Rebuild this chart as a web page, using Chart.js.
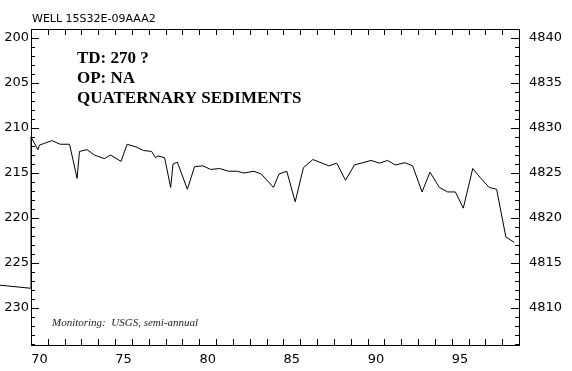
<!DOCTYPE html>
<html>
<head>
<meta charset="utf-8">
<title>WELL 15S32E-09AAA2</title>
<script src="https://cdn.jsdelivr.net/npm/chart.js@4/dist/chart.umd.min.js"></script>
<style>
  html, body { margin: 0; padding: 0; background: #fff; }
  #wrap { width: 572px; height: 371px; position: relative; }
</style>
</head>
<body>
<div id="wrap"><canvas id="hydro"></canvas></div>
<script>
// Water-level record: decimal year (19xx) and depth to water below land surface (ft)
const sampleYears = [
  63.0, 70.0, 70.0, 70.41, 70.50, 71.24, 71.73, 72.29, 72.74, 72.88,
  73.33, 73.77, 74.36, 74.72, 75.35, 75.71, 76.24, 76.70, 77.17, 77.40,
  77.55, 77.94, 78.30, 78.44, 78.70, 79.29, 79.72, 80.22, 80.67, 81.21,
  81.74, 82.26, 82.65, 83.24, 83.68, 84.41, 84.74, 85.20, 85.70, 86.19,
  86.75, 87.70, 88.17, 88.69, 89.22, 90.21, 90.70, 91.19, 91.65, 92.22,
  92.68, 93.24, 93.71, 94.27, 94.76, 95.22, 95.69, 96.25, 96.74, 97.23,
  97.67, 98.22, 98.72
];
const depthToWater = [
  226.5, 227.8, 211.0, 212.4, 211.9, 211.4, 211.8, 211.8, 215.6, 212.6,
  212.4, 213.0, 213.4, 213.0, 213.7, 211.8, 212.1, 212.5, 212.6, 213.3,
  213.1, 213.3, 216.6, 214.0, 213.8, 216.8, 214.3, 214.2, 214.6, 214.5,
  214.8, 214.8, 215.0, 214.8, 215.1, 216.6, 215.1, 214.8, 218.2, 214.4,
  213.5, 214.2, 213.9, 215.8, 214.1, 213.6, 213.9, 213.6, 214.1, 213.85,
  214.2, 217.1, 214.9, 216.6, 217.1, 217.1, 218.9, 214.5, 215.6, 216.6,
  216.8, 222.1, 222.7
];

// Axis labels
const yearLabels = [70, 75, 80, 85, 90, 95];
const depthTicks = [200, 205, 210, 215, 220, 225, 230];
const elevationTicks = [4810, 4815, 4820, 4825, 4830, 4835, 4840];

// Land-surface datum: elevation = datum - depth
const landSurface = 5040;
const depthTop = 199.0, depthBottom = 234.1;
const yearStart = 70, yearEnd = 99;

const wellName = 'WELL 15S32E-09AAA2';
const noteLines = ['TD: 270 ?', 'OP: NA', 'QUATERNARY SEDIMENTS'];
const monitoringNote = 'Monitoring:  USGS, semi-annual';

const tickFont = { family: 'DejaVu Sans', size: 13 };
const plainNumber = v => String(v);

// Tick marks drawn inward on all four sides of the frame
const innerTicks = {
  id: 'innerTicks',
  afterDraw(chart) {
    const { ctx, chartArea: a, scales } = chart;
    ctx.save();
    ctx.strokeStyle = '#000';
    ctx.lineWidth = 1;
    ctx.beginPath();
    const xs = scales.x;
    for (let v = Math.ceil(xs.min); v <= xs.max; v++) {
      const px = Math.round(xs.getPixelForValue(v)) + 0.5;
      ctx.moveTo(px, a.bottom); ctx.lineTo(px, a.bottom - 6);
      ctx.moveTo(px, a.top); ctx.lineTo(px, a.top + 6);
    }
    const ys = scales.y;
    for (let v = Math.ceil(ys.min); v <= ys.max; v++) {
      const py = Math.round(ys.getPixelForValue(v)) + 0.5;
      const len = v % 5 === 0 ? 8 : 4;
      ctx.moveTo(a.left, py); ctx.lineTo(a.left + len, py);
    }
    const es = scales.yElev;
    for (let v = Math.ceil(es.min); v <= es.max; v++) {
      const py = Math.round(es.getPixelForValue(v)) + 0.5;
      const len = v % 5 === 0 ? 8 : 4;
      ctx.moveTo(a.right, py); ctx.lineTo(a.right - len, py);
    }
    ctx.stroke();
    ctx.restore();
  }
};

// Well name above the frame and the notes inside the plot
const wellNotes = {
  id: 'wellNotes',
  afterDraw(chart) {
    const { ctx, chartArea: a } = chart;
    ctx.save();
    ctx.fillStyle = '#000';
    ctx.textBaseline = 'alphabetic';
    ctx.textAlign = 'left';
    ctx.font = '11px "DejaVu Sans"';
    ctx.fillText(wellName, a.left + 1, a.top - 7);

    ctx.font = 'bold 17px "Liberation Serif"';
    noteLines.forEach((t, i) => {
      ctx.fillText(t, a.left + 46, a.top + 34 + i * 20);
    });

    ctx.fillStyle = '#222';
    ctx.font = 'italic 11px "Liberation Serif"';
    ctx.fillText(monitoringNote, a.left + 21, a.bottom - 19);
    ctx.restore();
  }
};

const points = sampleYears.map((x, i) => ({ x, y: depthToWater[i] }));
const noGrid = { display: false, drawTicks: false, tickLength: 0 };

new Chart(document.getElementById('hydro'), {
  type: 'scatter',
  data: {
    datasets: [{
      data: points,
      showLine: true,
      borderColor: '#000',
      borderWidth: 1,
      pointRadius: 0,
      tension: 0,
      clip: false,
      xAxisID: 'x',
      yAxisID: 'y'
    }]
  },
  options: {
    responsive: true,
    maintainAspectRatio: false,
    animation: false,
    layout: { padding: 0 },
    plugins: {
      legend: { display: false },
      tooltip: { enabled: false },
      title: { display: false }
    },
    scales: {
      x: {
        type: 'linear', position: 'bottom',
        min: yearStart, max: yearEnd,
        grid: noGrid,
        border: { display: true, color: '#000', width: 1 },
        ticks: { display: false },
        afterFit: s => { s.height = 0; }
      },
      xYear: {
        type: 'linear', position: 'bottom',
        min: yearStart - 0.5, max: yearEnd - 0.5,
        grid: noGrid,
        border: { display: false },
        afterBuildTicks: s => { s.ticks = yearLabels.map(v => ({ value: v })); },
        ticks: { font: tickFont, color: '#000', padding: 7, maxRotation: 0, autoSkip: false, callback: plainNumber },
        afterFit: s => { s.height = 26; }
      },
      xTop: {
        type: 'linear', position: 'top',
        min: yearStart, max: yearEnd,
        grid: noGrid,
        border: { display: true, color: '#000', width: 1 },
        ticks: { display: false },
        afterFit: s => { s.height = 29; }
      },
      y: {
        type: 'linear', position: 'left', reverse: true,
        min: depthTop, max: depthBottom,
        grid: noGrid,
        border: { display: true, color: '#000', width: 1 },
        afterBuildTicks: s => { s.ticks = depthTicks.map(v => ({ value: v })); },
        ticks: { font: tickFont, color: '#000', padding: 2, autoSkip: false, callback: plainNumber },
        afterFit: s => { s.width = 31; }
      },
      yElev: {
        type: 'linear', position: 'right',
        min: landSurface - depthBottom, max: landSurface - depthTop,
        grid: noGrid,
        border: { display: true, color: '#000', width: 1 },
        afterBuildTicks: s => { s.ticks = elevationTicks.map(v => ({ value: v })); },
        ticks: { font: tickFont, color: '#000', padding: 10, autoSkip: false, callback: plainNumber },
        afterFit: s => { s.width = 53; }
      }
    }
  },
  plugins: [innerTicks, wellNotes]
});
</script>
</body>
</html>
